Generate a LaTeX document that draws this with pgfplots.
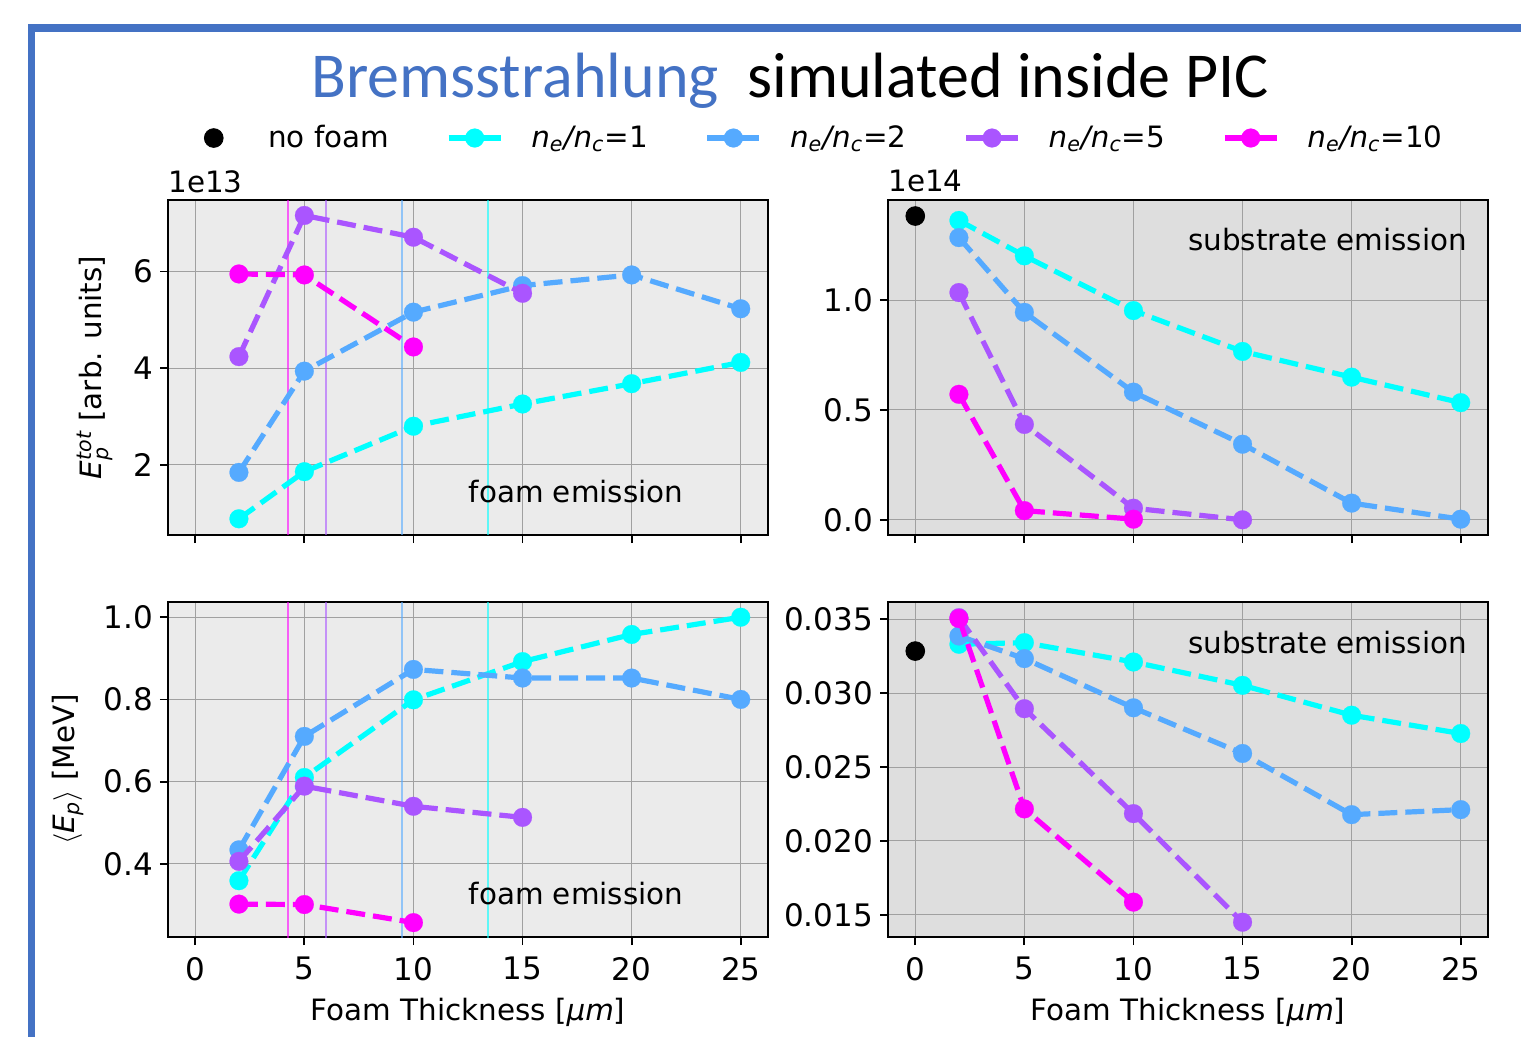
\documentclass[border=0pt]{standalone}
\usepackage{fontspec}
\setmainfont{DejaVu Sans}
\newfontfamily\titlefont{Carlito}
\usepackage{amsmath}
\usepackage{pgfplots}
\pgfplotsset{compat=1.18}

\definecolor{cA}{rgb}{0,1,1}
\definecolor{cB}{rgb}{0.333,0.667,1}
\definecolor{cC}{rgb}{0.667,0.333,1}
\definecolor{cD}{rgb}{1,0,1}
\definecolor{frameblue}{HTML}{4472C4}
\definecolor{bgL}{RGB}{235,235,235}
\definecolor{bgR}{RGB}{222,222,222}
\definecolor{gridc}{RGB}{160,160,160}

\newcommand{\fs}{\fontsize{14.7}{17}\selectfont}
\newcommand{\ft}{\fontsize{15.5}{17}\selectfont}
\newcommand{\nrat}[1]{\textit{n}\textsubscript{\textit{e}}\textit{/n}\textsubscript{\textit{c}}=#1}

\pgfplotsset{
  panel/.style={
    scale only axis, width=300pt, height=167.5pt,
    clip mode=individual,
    xmin=-1.25, xmax=26.25,
    xtick={0,5,10,15,20,25},
    grid=major, major grid style={gridc, line width=0.5pt},
    axis line style={black, line width=0.9pt},
    every tick/.style={black, line width=0.9pt},
    tick align=outside, major tick length=4pt,
    xtick pos=lower, ytick pos=left,
    scaled ticks=false,
    every tick label/.append style={font=\ft},
    xticklabel style={yshift=-2.5pt},
    /pgf/number format/assume math mode=true,
    label style={font=\fs},
    legend style={font=\fs},
  },
  ser/.style={color=#1, line width=2.6pt, dash pattern=on 9.5pt off 4pt,
    mark=*, mark size=4.7pt, mark options={solid, fill=#1, draw=#1, line width=0.1pt},
    legend image code/.code={%
      \draw[mark repeat=2, mark phase=2, ##1, solid] plot coordinates {(0pt,0pt) (13pt,0pt) (26pt,0pt)};}},
  dotleg/.style={legend image code/.code={\path (0pt,0pt) (26pt,0pt); \draw[##1] plot coordinates {(13pt,0pt)};}},
  vl/.style={color=#1, line width=0.8pt, opacity=0.6, forget plot},
  prec/.style={yticklabel style={/pgf/number format/fixed, /pgf/number format/fixed zerofill, /pgf/number format/precision=#1}},
}

\begin{document}
\begin{tikzpicture}
\useasboundingbox (0pt,0pt) rectangle (760.5pt,-518.5pt);
% slide frame
\fill[frameblue] (14pt,-12pt) rectangle (17.5pt,-518.5pt);
\fill[frameblue] (14pt,-12pt) rectangle (760.5pt,-16pt);
% title
\node[anchor=base, inner sep=0pt, font=\titlefont\fontsize{32}{37}\selectfont] at (395pt,-49pt)
  {\textcolor{frameblue}{Bremsstrahlung}\hspace{0.45em}simulated inside PIC};

% ---------- top left ----------
\begin{axis}[panel, at={(84pt,-267.5pt)}, anchor=south west,
  axis background/.style={fill=bgL},
  ymin=0.55, ymax=7.48, ytick={2,4,6}, xticklabels={},
  ylabel={\textit{E}$^{\textit{tot}}_{\textit{p}}$ [arb. units]},
  ylabel style={at={(axis description cs:-0.1217,0.5)}, rotate=0, anchor=center},
]
\addplot[vl=cD] coordinates {(4.24,0) (4.24,8)};
\addplot[vl=cC] coordinates {(6.0,0) (6.0,8)};
\addplot[vl=cB] coordinates {(9.48,0) (9.48,8)};
\addplot[vl=cA] coordinates {(13.42,0) (13.42,8)};
\addplot[ser=cA] coordinates {(2,0.885) (5,1.86) (10,2.80) (15,3.26) (20,3.68) (25,4.12)};
\addplot[ser=cB] coordinates {(2,1.845) (5,3.94) (10,5.16) (15,5.71) (20,5.93) (25,5.23)};
\addplot[ser=cC] coordinates {(2,4.24) (5,7.16) (10,6.71) (15,5.55)};
\addplot[ser=cD] coordinates {(2,5.95) (5,5.93) (10,4.44)};
\node[font=\fs, anchor=center] at (axis description cs:0.68,0.13) {foam emission};
\node[font=\fs, anchor=base west, inner sep=0pt, yshift=4pt] at (axis description cs:0,1) {1e13};
\end{axis}

% ---------- top right ----------
\begin{axis}[panel, at={(444pt,-267.5pt)}, anchor=south west,
  axis background/.style={fill=bgR},
  ymin=-0.069, ymax=1.455, ytick={0,0.5,1.0}, xticklabels={},
  prec=1,
  legend columns=5,
  legend style={at={(axis description cs:-0.1217,1.185)}, anchor=center, draw=none, fill=none,
    nodes={inner sep=0pt},
    /tikz/every odd column/.append style={column sep=14pt},
    /tikz/every even column/.append style={column sep=28.5pt}},
  legend cell align=left,
]
\addplot[black, only marks, mark=*, mark size=4.7pt, dotleg] coordinates {(0,1.382)};
\addlegendentry{no foam}
\addplot[ser=cA] coordinates {(2,1.362) (5,1.201) (10,0.952) (15,0.766) (20,0.649) (25,0.533)};
\addlegendentry{\nrat{1}}
\addplot[ser=cB] coordinates {(2,1.284) (5,0.944) (10,0.581) (15,0.344) (20,0.076) (25,0.003)};
\addlegendentry{\nrat{2}}
\addplot[ser=cC] coordinates {(2,1.034) (5,0.434) (10,0.053) (15,0.0)};
\addlegendentry{\nrat{5}}
\addplot[ser=cD] coordinates {(2,0.571) (5,0.042) (10,0.003)};
\addlegendentry{\nrat{10}}
\node[font=\fs, anchor=center] at (axis description cs:0.7325,0.881) {substrate emission};
\node[font=\fs, anchor=base west, inner sep=0pt, yshift=4pt] at (axis description cs:0,1) {1e14};
\end{axis}

% ---------- bottom left ----------
\begin{axis}[panel, at={(84pt,-468.5pt)}, anchor=south west,
  axis background/.style={fill=bgL},
  ymin=0.222, ymax=1.037, ytick={0.4,0.6,0.8,1.0},
  prec=1,
  ylabel={$\langle$\textit{E}$_{\textit{p}}\rangle$ [MeV]},
  ylabel style={at={(axis description cs:-0.1667,0.5)}, rotate=0, anchor=center},
  xlabel={Foam Thickness [\textit{μm}]},
  xlabel style={at={(axis description cs:0.5,-0.226)}, anchor=center},
]
\addplot[vl=cD] coordinates {(4.24,0) (4.24,1.2)};
\addplot[vl=cC] coordinates {(6.0,0) (6.0,1.2)};
\addplot[vl=cB] coordinates {(9.48,0) (9.48,1.2)};
\addplot[vl=cA] coordinates {(13.42,0) (13.42,1.2)};
\addplot[ser=cA] coordinates {(2,0.359) (5,0.610) (10,0.799) (15,0.892) (20,0.958) (25,1.0)};
\addplot[ser=cB] coordinates {(2,0.434) (5,0.710) (10,0.873) (15,0.852) (20,0.852) (25,0.800)};
\addplot[ser=cC] coordinates {(2,0.406) (5,0.589) (10,0.540) (15,0.513)};
\addplot[ser=cD] coordinates {(2,0.302) (5,0.301) (10,0.257)};
\node[font=\fs, anchor=center] at (axis description cs:0.68,0.131) {foam emission};
\end{axis}

% ---------- bottom right ----------
\begin{axis}[panel, at={(444pt,-468.5pt)}, anchor=south west,
  axis background/.style={fill=bgR},
  ymin=0.0135, ymax=0.03617, ytick={0.015,0.020,0.025,0.030,0.035},
  prec=3,
  xlabel={Foam Thickness [\textit{μm}]},
  xlabel style={at={(axis description cs:0.5,-0.226)}, anchor=center},
]
\addplot[black, only marks, mark=*, mark size=4.7pt] coordinates {(0,0.03285)};
\addplot[ser=cA] coordinates {(2,0.03331) (5,0.03342) (10,0.03211) (15,0.03053) (20,0.02851) (25,0.02727)};
\addplot[ser=cB] coordinates {(2,0.03387) (5,0.03234) (10,0.02901) (15,0.02592) (20,0.02178) (25,0.02212)};
\addplot[ser=cC] coordinates {(2,0.03511) (5,0.02895) (10,0.02185) (15,0.01450)};
\addplot[ser=cD] coordinates {(2,0.03505) (5,0.02217) (10,0.01586)};
\node[font=\fs, anchor=center] at (axis description cs:0.7325,0.878) {substrate emission};
\end{axis}
\end{tikzpicture}
\end{document}
